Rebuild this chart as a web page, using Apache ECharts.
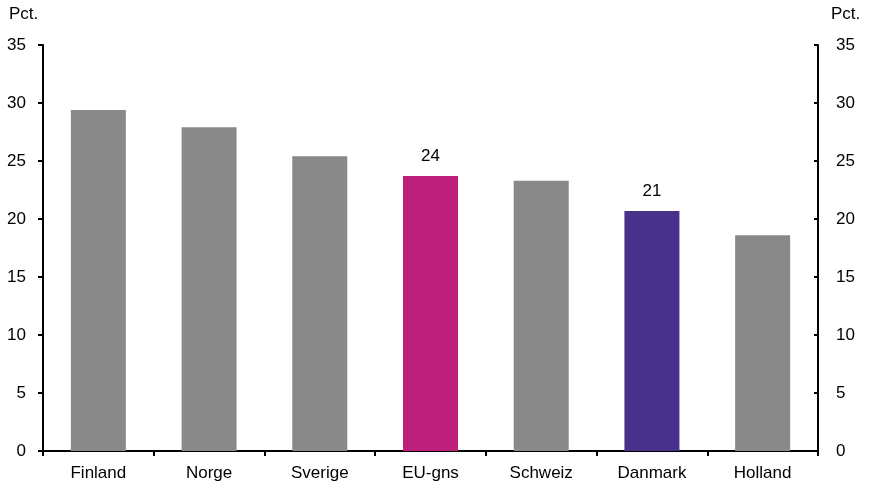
<!DOCTYPE html>
<html><head><meta charset="utf-8">
<script src="https://cdn.jsdelivr.net/npm/echarts@6/dist/echarts.min.js"></script>
<style>html,body{margin:0;padding:0;background:#fff}#c{width:870px;height:486px}</style>
</head><body><div id="c"></div>
<script>
const categories = ["Finland", "Norge", "Sverige", "EU-gns", "Schweiz", "Danmark", "Holland"];
const values = [29.4, 27.9, 25.4, 23.7, 23.3, 20.7, 18.6];
const labelled = ["EU-gns", "Danmark"];
const yTicks = [0, 5, 10, 15, 20, 25, 30, 35];
const unitLabel = "Pct.";

const colorFor = { "EU-gns": "#BE1E7C", "Danmark": "#47318B" };
const font = "'Liberation Sans', Arial, sans-serif";
const fs = 17;

const data = categories.map((c, i) => ({
  value: values[i],
  itemStyle: { color: colorFor[c] || "#898989" },
  label: { show: labelled.includes(c) }
}));

const yBase = {
  type: "value", min: yTicks[0], max: yTicks[yTicks.length - 1], interval: 5,
  splitLine: { show: false },
  axisLine: { show: true, lineStyle: { color: "#000", width: 2 } },
};

const chart = echarts.init(document.getElementById("c"));
chart.setOption({
  animation: false,
  grid: { left: 43, right: 52, top: 45, bottom: 35, containLabel: false },
  xAxis: {
    type: "category", data: categories, boundaryGap: true,
    axisLine: { lineStyle: { color: "#000", width: 2 } },
    axisTick: { show: true, length: 5, lineStyle: { color: "#000", width: 2 } },
    axisLabel: { color: "#000", fontSize: fs, fontFamily: font, margin: 14 }
  },
  yAxis: [
    Object.assign({}, yBase, { position: "left",
      axisLabel: { color: "#000", fontSize: fs, fontFamily: font, margin: 17 },
      axisTick: { show: true, length: 5, lineStyle: { color: "#000", width: 2 } } }),
    Object.assign({}, yBase, { position: "right",
      axisLabel: { color: "#000", fontSize: fs, fontFamily: font, margin: 18 },
      axisTick: { show: true, inside: true, length: 4, lineStyle: { color: "#000", width: 2 } } })
  ],
  graphic: [
    { type: "text", left: 9, top: 6, style: { text: unitLabel, fontSize: fs, fontFamily: font, fill: "#000" } },
    { type: "text", left: 831, top: 6, style: { text: unitLabel, fontSize: fs, fontFamily: font, fill: "#000" } }
  ],
  series: [{
    type: "bar", data: data, barWidth: 55, yAxisIndex: 0,
    label: { position: "top", distance: 11, color: "#000", fontSize: fs, fontFamily: font,
      formatter: p => Math.round(p.value) }
  }]
});
</script></body></html>
